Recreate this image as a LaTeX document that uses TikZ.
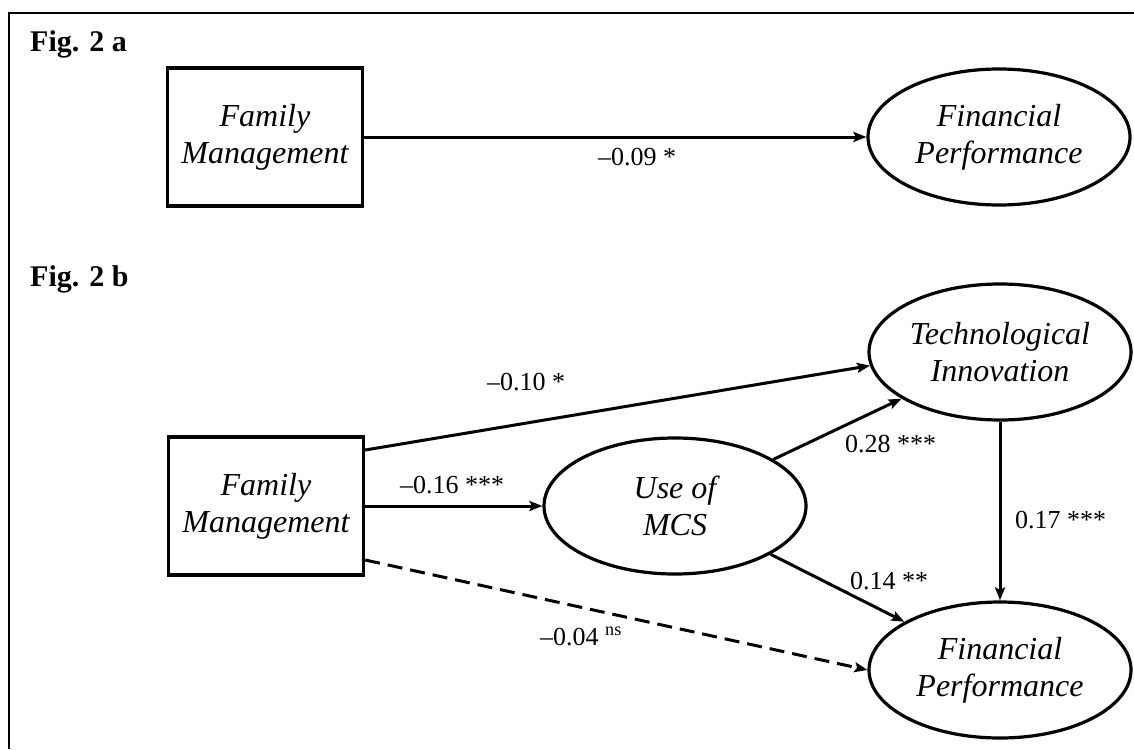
\documentclass[tikz,border=0pt]{standalone}
\usepackage{fontspec}
\setmainfont{Liberation Serif}
\usetikzlibrary{shapes.geometric,arrows.meta}
\newcommand{\mynodefont}{\fontsize{32}{37}\selectfont\itshape}
\newcommand{\mylabfont}{\fontsize{26}{28}\selectfont}
\newcommand{\mytitlefont}{\fontsize{30}{34}\selectfont\bfseries}
\begin{document}
\begin{tikzpicture}[x=1pt,y=-1pt,
  box/.style={draw, line width=3.4pt, minimum width=195pt, minimum height=138pt, inner sep=0pt, align=center, font=\mynodefont},
  oval/.style={draw, ellipse, line width=3.2pt, minimum width=262pt, minimum height=136pt, inner sep=0pt, align=center, font=\mynodefont},
  lab/.style={font=\mylabfont, inner sep=0pt, anchor=base west},
  arr/.style={line width=3pt, -{Stealth[length=13pt,width=10pt,inset=2.5pt]}},
  figtitle/.style={font=\mytitlefont, inner sep=0pt, anchor=base west}]
\useasboundingbox (0,0) rectangle (1134,749);
% frame
\draw[line width=2pt] (9,749) -- (9,13) -- (1134,13);
% titles
\node[figtitle] (ta) at (30,52) {Fig. 2 a};
\node[figtitle] (tb) at (30,286) {Fig. 2 b};
% Fig 2a
\node[box] (fma) at (265,137) {Family\\Management};
\node[oval] (fpa) at (999,137) {Financial\\Performance};
\draw[arr] (fma.east) -- (fpa.west);
\node[lab] (l09) at (598,165) {–0.09 *};
% Fig 2b
\node[box] (fmb) at (266,506) {Family\\Management};
\node[oval] (mcs) at (675,506) {Use of\\MCS};
\node[oval] (ti) at (1000,352) {Technological\\Innovation};
\node[oval] (fpb) at (1000,670) {Financial\\Performance};
\draw[arr] ([yshift=56pt]fmb.east) -- (ti.186);
\draw[arr] (fmb.east) -- (mcs.west);
\draw[arr] (mcs) -- (ti);
\draw[arr] (mcs) -- (fpb);
\draw[arr] (ti.south) -- (fpb.north);
\draw[arr, dash pattern=on 15pt off 8pt] ([yshift=-54pt]fmb.east) -- (fpb.west);
\node[lab] (l10) at (487,390) {–0.10 *};
\node[lab] (l16) at (400,493) {–0.16 ***};
\node[lab] (l28) at (845,452) {0.28 ***};
\node[lab] (l17) at (1015,528) {0.17 ***};
\node[lab] (l14) at (850,589) {0.14 **};
\node[lab] (l04) at (540,645) {–0.04 \textsuperscript{ns}};
\end{tikzpicture}
\end{document}
